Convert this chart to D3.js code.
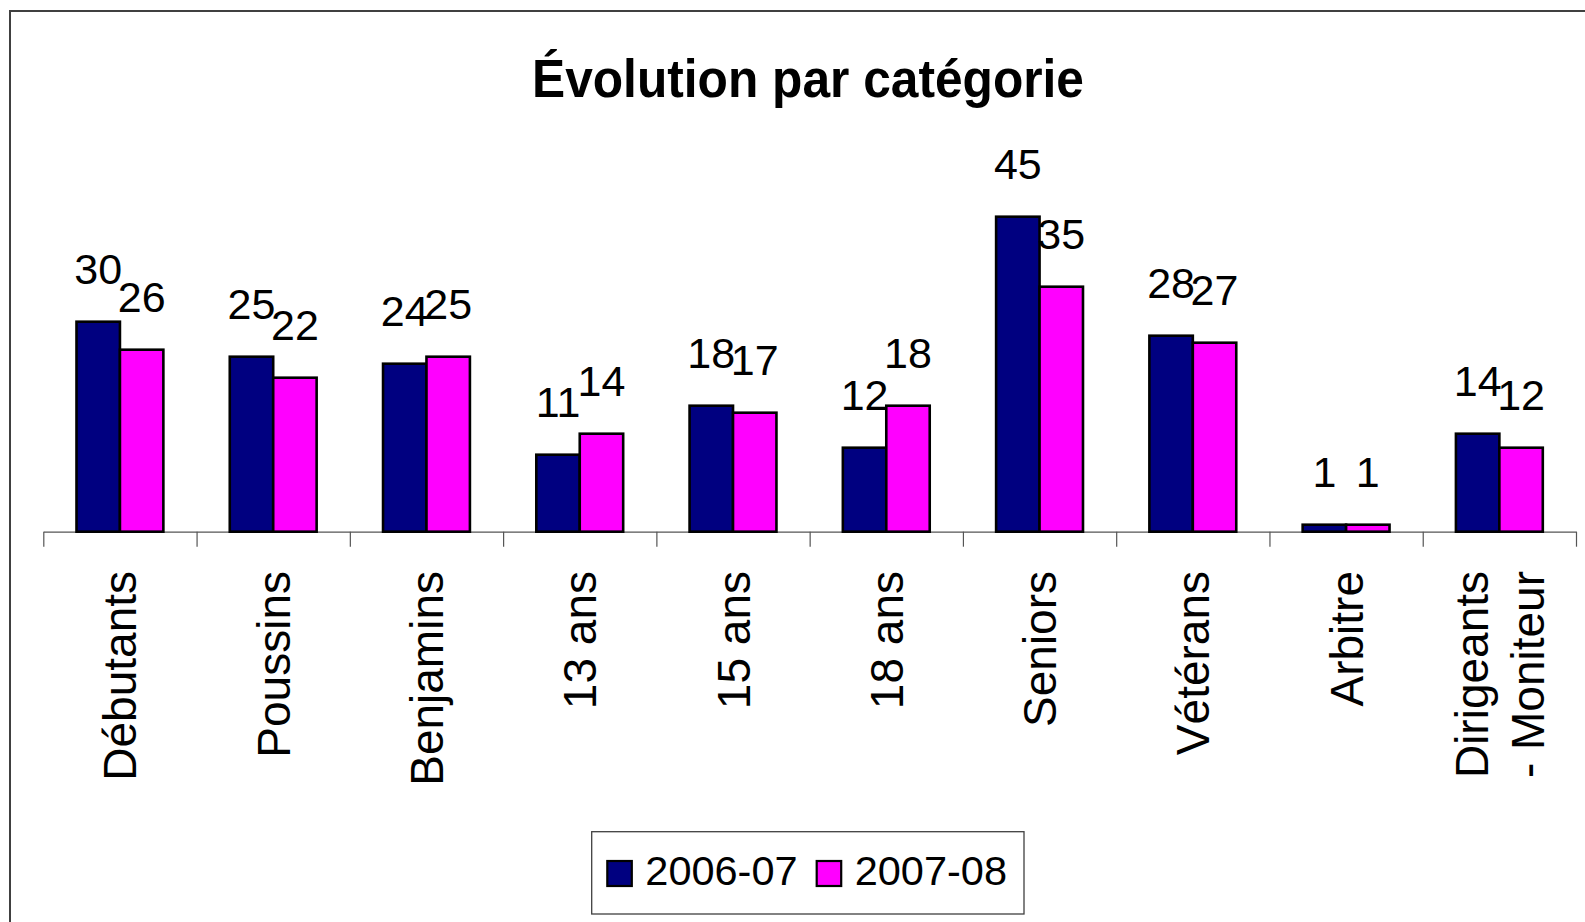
<!DOCTYPE html>
<html><head><meta charset="utf-8">
<script src="https://cdn.jsdelivr.net/npm/d3@7"></script>
<style>
html,body{margin:0;padding:0;background:#fff;}
svg{display:block;font-family:"Liberation Sans",Arial,sans-serif;}
</style></head>
<body>
<svg id="chart" width="1585" height="922"></svg>
<script>
const categories = ["Débutants","Poussins","Benjamins","13 ans","15 ans","18 ans","Seniors","Vétérans","Arbitre","Dirigeants - Moniteur"];
const categoryLines = [["Débutants"],["Poussins"],["Benjamins"],["13 ans"],["15 ans"],["18 ans"],["Seniors"],["Vétérans"],["Arbitre"],["Dirigeants","- Moniteur"]];
const seriesNames = ["2006-07","2007-08"];
const values2006 = [30,25,24,11,18,12,45,28,1,14];
const values2007 = [26,22,25,14,17,18,35,27,1,12];
const seriesColors = ["#000080","#FF00FF"];
const titleText = "Évolution par catégorie";

const svg = d3.select("#chart");
const W = 1585, H = 922;
const plotLeft = 43.3, plotRight = 1576, axisY = 531.7;

// outer chart border (cut off at right and bottom)
svg.append("path").attr("d", `M10,${H+5} L10,11 L${W+5},11`)
  .attr("fill","none").attr("stroke","#404040").attr("stroke-width",2);

svg.append("text").attr("x",808).attr("y",97).attr("text-anchor","middle")
  .attr("font-size",54).attr("font-weight","bold").attr("fill","#000")
  .attr("textLength",552).attr("lengthAdjust","spacingAndGlyphs").text(titleText);

const data = categories.map((c,i)=>({cat:c, lines:categoryLines[i], vals:[values2006[i], values2007[i]]}));

const x0 = d3.scaleBand().domain(categories).range([plotLeft, plotRight]).padding(0);
const x1 = d3.scaleBand().domain(seriesNames).range([33.2, x0.bandwidth()-33.2]).padding(0);
const y = d3.scaleLinear().domain([0,50]).range([axisY, axisY-350]);

const edge = d3.scaleLinear().domain([0, categories.length]).range([plotLeft, plotRight]);
const axis = svg.append("g").attr("transform",`translate(0,${axisY})`)
  .call(d3.axisBottom(edge).ticks(categories.length).tickFormat("").tickSize(15).tickSizeOuter(0));
axis.select(".domain").attr("stroke","#555").attr("stroke-width",1.2);
axis.selectAll(".tick line").attr("stroke","#555").attr("stroke-width",1.2);

const groups = svg.append("g").selectAll("g").data(data).join("g")
  .attr("transform", d=>`translate(${x0(d.cat)},0)`);

groups.selectAll("rect").data(d=>d.vals.map((v,j)=>({v, s:seriesNames[j], j}))).join("rect")
  .attr("x", d=>x1(d.s)).attr("y", d=>y(d.v))
  .attr("width", x1.bandwidth()).attr("height", d=>axisY - y(d.v))
  .attr("fill", d=>seriesColors[d.j]).attr("stroke","#000").attr("stroke-width",2.6);

groups.selectAll("text.val").data(d=>d.vals.map((v,j)=>({v, s:seriesNames[j], j}))).join("text")
  .attr("class","val")
  .attr("x", d=>x1(d.s)+x1.bandwidth()/2).attr("y", d=>y(d.v)-37.5)
  .attr("text-anchor","middle").attr("font-size",43).attr("fill","#000")
  .text(d=>d.v);

// category labels rotated
const labels = svg.append("g").selectAll("text").data(data).join("text")
  .attr("transform", d=>`translate(${x0(d.cat)+x0.bandwidth()/2},571) rotate(-90)`)
  .attr("text-anchor","end").attr("font-size",46).attr("fill","#000");
labels.each(function(d){
  const t = d3.select(this);
  const n = d.lines.length;
  d.lines.forEach((ln,k)=>{
    const off = (k - (n-1)/2)*1.2 + 0.36;
    t.append("tspan").attr("x",0).attr("y",0).attr("dy", off+"em").text(ln);
  });
});

// legend
const lg = svg.append("g");
lg.append("rect").attr("x",591.7).attr("y",831.7).attr("width",432.3).attr("height",82.3)
  .attr("fill","#fff").attr("stroke","#404040").attr("stroke-width",1.3);
const legendX = [607.3, 816.7];
seriesNames.forEach((s,j)=>{
  lg.append("rect").attr("x",legendX[j]).attr("y",861).attr("width",24.5).attr("height",25)
    .attr("fill",seriesColors[j]).attr("stroke","#000").attr("stroke-width",2.2);
  lg.append("text").attr("x",legendX[j]+38).attr("y",885).attr("font-size",41.5).attr("fill","#000").text(s);
});
</script>
</body></html>
